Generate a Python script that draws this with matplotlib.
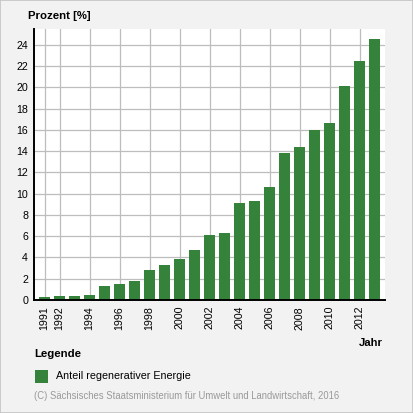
import matplotlib
matplotlib.use("Agg")
import matplotlib.pyplot as plt
from matplotlib.patches import Rectangle

plt.rcParams['font.family'] = ['Liberation Sans', 'DejaVu Sans']

# Anteil regenerativer Energie, Sachsen
years = list(range(1991, 2014))
share = [0.3, 0.4, 0.4, 0.5, 1.3, 1.5, 1.8, 2.8, 3.3, 3.9, 4.7, 6.1,
         6.3, 9.1, 9.3, 10.6, 13.8, 14.4, 16.0, 16.7, 20.1, 22.5, 24.6]
tick_years = [1991, 1992, 1994, 1996, 1998, 2000, 2002, 2004, 2006, 2008, 2010, 2012]
y_ticks = list(range(0, 25, 2))

bar_color = '#35833a'
grid_color = '#bdbdbd'

fig = plt.figure(figsize=(4.13, 4.13), dpi=100, facecolor='#f2f2f2')
# outer frame
fig.patches.append(Rectangle((0.0012, 0.0012), 0.9976, 0.9976, transform=fig.transFigure,
                             fill=False, edgecolor='#c4c4c4', linewidth=1.2))

ax = fig.add_axes([34 / 413, 1 - 300 / 413, 351 / 413, 271 / 413])
ax.set_facecolor('white')

x = list(range(len(years)))
ax.bar(x, share, width=0.74, color=bar_color, zorder=3)

ax.set_xlim(-0.7, len(years) - 0.3)
ax.set_ylim(0, 25.5)

tick_pos = [years.index(t) for t in tick_years]
ax.set_xticks(tick_pos)
ax.set_xticklabels([str(t) for t in tick_years], rotation=90, fontsize=7.7)
ax.set_yticks(y_ticks)
ax.set_yticklabels([str(v) for v in y_ticks], fontsize=7.7)
ax.tick_params(axis='both', length=0, pad=4.3)

ax.grid(True, color=grid_color, linewidth=0.9, zorder=0)
ax.set_axisbelow(True)

for s in ['top', 'right']:
    ax.spines[s].set_visible(False)
for s in ['left', 'bottom']:
    ax.spines[s].set_color('black')
    ax.spines[s].set_linewidth(1.4)
    ax.spines[s].set_zorder(4)

fig.text(28 / 413, 1 - 16 / 413, 'Prozent [%]', fontsize=8.2, fontweight='bold',
         va='center', ha='left')
fig.text(383 / 413, 1 - 343 / 413, 'Jahr', fontsize=8.2, fontweight='bold',
         va='center', ha='right')
fig.text(34 / 413, 1 - 354 / 413, 'Legende', fontsize=8.2, fontweight='bold',
         va='center', ha='left')
fig.patches.append(Rectangle((35 / 413, 1 - 383 / 413), 13 / 413, 13 / 413,
                             transform=fig.transFigure, facecolor=bar_color,
                             edgecolor='none'))
fig.text(56 / 413, 1 - 376 / 413, 'Anteil regenerativer Energie', fontsize=7.75,
         va='center', ha='left')
fig.text(34 / 413, 1 - 396 / 413,
         '(C) Sächsisches Staatsministerium für Umwelt und Landwirtschaft, 2016',
         fontsize=6.85, color='#999999', va='center', ha='left')

fig.savefig('out.png', dpi=100, facecolor=fig.get_facecolor())
